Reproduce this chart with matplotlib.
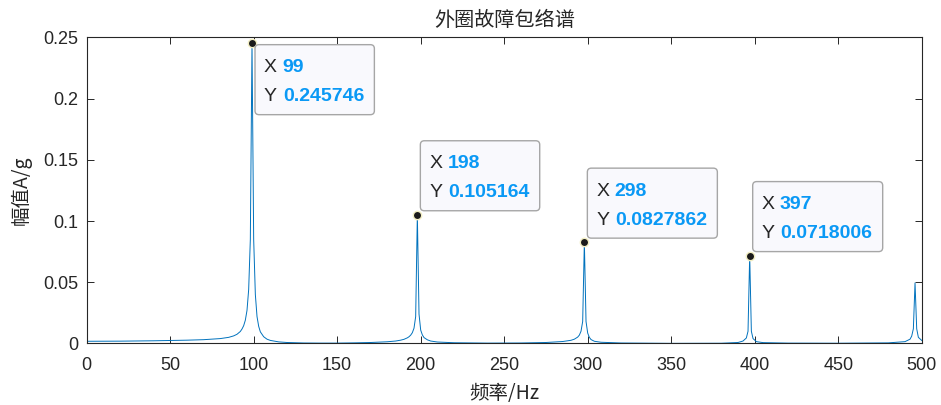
import matplotlib
matplotlib.use("Agg")
import matplotlib.pyplot as plt
import matplotlib.transforms as mtransforms
from matplotlib.patches import FancyBboxPatch

plt.rcParams['font.family'] = ['Liberation Sans', 'Noto Sans CJK SC', 'DejaVu Sans']

# ---- data ----
freq = [0, 20, 40, 60, 70, 80, 85, 88, 90, 92, 93, 94, 95, 96, 97, 98, 99, 100, 101, 102, 103, 104,
        106, 108, 110, 115, 120, 130, 140, 150, 160, 170, 180, 185, 188, 190, 192, 193, 194, 195,
        196, 197, 198, 199, 200, 201, 202, 204, 206, 210, 220, 240, 260, 275, 285, 290, 292, 294,
        295, 296, 297, 298, 299, 300, 301, 302, 304, 308, 320, 350, 380, 390, 393, 395, 396, 397,
        398, 399, 401, 405, 420, 450, 480, 490, 493, 494, 495, 496, 497, 498, 500]
amp = [0.0018, 0.0019, 0.0022, 0.0027, 0.0031, 0.0040, 0.0050, 0.0062, 0.0075, 0.0098, 0.0118,
       0.0145, 0.019, 0.027, 0.044, 0.085, 0.245746, 0.085, 0.040, 0.022, 0.014, 0.0095,
       0.0055, 0.0035, 0.0025, 0.0013, 0.0008, 0.0004, 0.0003, 0.0003, 0.0005, 0.0008, 0.0014,
       0.0020, 0.0027, 0.0034, 0.0046, 0.0055, 0.0068, 0.0088,
       0.0125, 0.022, 0.105164, 0.024, 0.011, 0.0070, 0.0048, 0.0030, 0.0020, 0.0012, 0.0006,
       0.0003, 0.0004, 0.0008, 0.0016, 0.0026, 0.0035, 0.0052,
       0.0068, 0.0100, 0.018, 0.0827862, 0.018, 0.0085, 0.0050, 0.0032, 0.0018, 0.0010, 0.0004,
       0.0001, 0.0002, 0.0008, 0.0020, 0.0045, 0.010, 0.0718006,
       0.010, 0.0040, 0.0015, 0.0007, 0.0003, 0.0002, 0.0005, 0.0015, 0.0035, 0.0060, 0.012,
       0.0495, 0.012, 0.0050, 0.0025]

tip_x = [99, 198, 298, 397]
tip_y = [0.245746, 0.105164, 0.0827862, 0.0718006]
tip_ylabel = ['0.245746', '0.105164', '0.0827862', '0.0718006']
tip_below = [True, False, False, False]

xticks = [0, 50, 100, 150, 200, 250, 300, 350, 400, 450, 500]
yticks = [0, 0.05, 0.1, 0.15, 0.2, 0.25]
ytick_labels = ['0', '0.05', '0.1', '0.15', '0.2', '0.25']

title = '外圈故障包络谱'
xlabel = '频率/Hz'
ylabel = '幅值A/g'

# ---- figure ----
dark = '#262626'
fig = plt.figure(figsize=(9.41, 4.05), dpi=100)
ax = fig.add_axes([0.0921, 0.1519, 0.8874, 0.7556])
ax.plot(freq, amp, color='#0072BD', lw=0.7)
ax.set_xlim(0, 500)
ax.set_ylim(0, 0.25)
ax.set_xticks(xticks)
ax.set_xticklabels([str(t) for t in xticks])
ax.set_yticks(yticks)
ax.set_yticklabels(ytick_labels)
ax.tick_params(direction='in', length=5, width=0.7, colors=dark, labelsize=13,
               top=True, right=True)
ax.tick_params(axis='x', pad=10)
ax.tick_params(axis='y', pad=6)
for s in ax.spines.values():
    s.set_color(dark)
    s.set_linewidth(0.8)

cjk = ['Noto Sans CJK SC', 'Liberation Sans', 'DejaVu Sans']
ax.set_title(title, fontsize=14.5, color=dark, family=cjk, pad=8)
ax.set_xlabel(xlabel, fontsize=14, color=dark, family=cjk, labelpad=6)
ax.set_ylabel(ylabel, fontsize=14, color=dark, family=cjk, labelpad=8)

# ---- data tips ----
ax.plot(tip_x, tip_y, 'o', ms=6, mfc='#1a1a1a', mec='#f3efc4', mew=1.0, zorder=6, clip_on=False)

fig.canvas.draw()
renderer = fig.canvas.get_renderer()
blue = '#0A99F5'
for x, y, lab, below in zip(tip_x, tip_y, tip_ylabel, tip_below):
    tr = mtransforms.IdentityTransform() + mtransforms.ScaledTranslation(x, y, ax.transData)
    if below:
        top = -2
    else:
        top = 74
    bottom = top - 70
    l1 = top - 23
    l2 = top - 52
    t1a = ax.text(12, l1, 'X', transform=tr, fontsize=14, color=dark, va='center', ha='left', zorder=8)
    t1b = ax.text(30, l1, str(x), transform=tr, fontsize=14, color=blue, weight='bold',
                  va='center', ha='left', zorder=8)
    t2a = ax.text(12, l2, 'Y', transform=tr, fontsize=14, color=dark, va='center', ha='left', zorder=8)
    t2b = ax.text(31, l2, lab, transform=tr, fontsize=14, color=blue, weight='bold',
                  va='center', ha='left', zorder=8)
    fig.canvas.draw()
    px0 = ax.transData.transform((x, y))[0]
    right = max(t.get_window_extent(renderer).x1 for t in (t1b, t2b)) - px0 + 10
    box = FancyBboxPatch((3, bottom), right - 3, 70, boxstyle='round,pad=0,rounding_size=4',
                         transform=tr, facecolor='#f9f9fd', edgecolor='#a6a6a6', lw=1.0,
                         zorder=7, clip_on=False)
    ax.add_patch(box)

fig.savefig('out.png', dpi=100)
